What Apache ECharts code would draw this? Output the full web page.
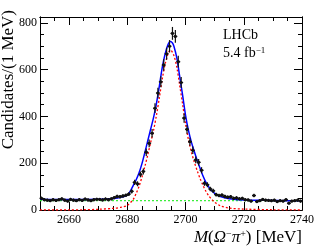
<!DOCTYPE html>
<html><head><meta charset="utf-8">
<script src="https://cdn.jsdelivr.net/npm/echarts@6/dist/echarts.min.js"></script>
<style>html,body{margin:0;padding:0;background:#fff}#c{width:324px;height:250px}</style>
</head><body><div id="c"></div>
<script>
// bin centres (1 MeV bins)
const binCenters = [2650.5,2651.5,2652.5,2653.5,2654.5,2655.5,2656.5,2657.5,2658.5,2659.5,
2660.5,2661.5,2662.5,2663.5,2664.5,2665.5,2666.5,2667.5,2668.5,2669.5,
2670.5,2671.5,2672.5,2673.5,2674.5,2675.5,2676.5,2677.5,2678.5,2679.5,
2680.5,2681.5,2682.5,2683.5,2684.5,2685.5,2686.5,2687.5,2688.5,2689.5,
2690.5,2691.5,2692.5,2693.5,2694.5,2695.5,2696.5,2697.5,2698.5,2699.5,
2700.5,2701.5,2702.5,2703.5,2704.5,2705.5,2706.5,2707.5,2708.5,2709.5,
2710.5,2711.5,2712.5,2713.5,2714.5,2715.5,2716.5,2717.5,2718.5,2719.5,
2720.5,2721.5,2722.5,2723.5,2724.5,2725.5,2726.5,2727.5,2728.5,2729.5,
2730.5,2731.5,2732.5,2733.5,2734.5,2735.5,2736.5,2737.5,2738.5,2739.5];
const counts = [50,44,42,40,44,41,44,48,42,38,
45,42,40,44,41,47,43,40,44,46,
45,43,47,44,48,53,58,57,60,63,
68,80,118,112,152,165,247,285,328,435,
500,548,620,668,700,755,742,634,545,393,
345,292,255,214,204,170,114,108,90,82,
66,62,64,58,55,57,50,52,48,50,
44,43,38,62,36,40,45,42,41,40,
42,36,40,38,44,29,38,40,42,38];
// total fit (blue)
const fitMass = [2650,2655,2660,2665,2670,2673,2676,2678,2680,2681,2682,2683,2684,2685,2686,2687,2688,2689,2690,2691,2692,2693,2694,2694.8,2695.5,2696,2697,2698,2699,2700,2701,2702,2703,2704,2705,2706,2707,2708,2709,2710,2712,2715,2720,2725,2730,2735,2740];
const fitTotal = [46,45,45,45,46,47,50,55,64,80,104,128,158,197,245,295,345,395,455,530,610,668,708,720,714,700,650,570,490,405,340,290,250,212,178,145,118,98,82,71,57,48,43,42,41,40,40];
// signal component (red dashed)
const sigMass = [2650,2660,2665,2670,2675,2678,2680,2682,2683,2684,2685,2686,2687,2688,2689,2690,2691,2692,2693,2694,2694.8,2696,2697,2698,2699,2700,2701,2702,2703,2704,2705,2706,2707,2708,2709,2710,2712,2715,2720,2730,2740];
const sigValues = [0,0,1,3,7,12,20,45,70,100,140,185,235,288,340,405,480,560,625,668,684,660,610,532,452,368,300,248,205,168,134,105,80,60,45,33,18,8,4,1,0];
// background component (green dotted)
const bkgMass = [2650,2740];
const bkgValues = [40,40];
const xLabels = [2660,2680,2700,2720,2740];
const xMinor = [2650,2655,2665,2670,2675,2685,2690,2695,2705,2710,2715,2725,2730,2735];
const yLabels = [0,200,400,600,800];
const yMinor = [50,100,150,250,300,350,450,500,550,650,700,750];

const pts = binCenters.map((m,i)=>[m,counts[i],Math.sqrt(counts[i])]);
const serif = 'Liberation Serif';
const X0 = 2650, X1 = 2740, Y0 = 0, Y1 = 825;

function xAx(pos, values, len, labels){
  return {type:'value', min:X0, max:X1, position:pos,
    axisLine:{show:true, onZero:false, lineStyle:{color:'#000', width:1}},
    axisTick:{show:true, inside:true, length:len, customValues:values, lineStyle:{color:'#000', width:1}},
    axisLabel:{show:labels, customValues:values, formatter:v=>String(v), fontFamily:serif, fontSize:12, color:'#000', margin:4},
    splitLine:{show:false}};
}
function yAx(pos, values, len, labels){
  return {type:'value', min:Y0, max:Y1, position:pos,
    axisLine:{show:true, onZero:false, lineStyle:{color:'#000', width:1}},
    axisTick:{show:true, inside:true, length:len, customValues:values, lineStyle:{color:'#000', width:1}},
    axisLabel:{show:labels, customValues:values, formatter:v=>String(v), fontFamily:serif, fontSize:12, color:'#000', margin:3},
    splitLine:{show:false}};
}

const chart = echarts.init(document.getElementById('c'), null, {renderer:'canvas'});
chart.setOption({
  animation:false,
  backgroundColor:'#fff',
  grid:{left:40, right:22, top:17, bottom:40, containLabel:false},
  xAxis:[
    Object.assign(xAx('bottom', xLabels, 8, true), {
      name:'{i|M}({i|Ω}{sup|−}{i|π}{sup|+}) [MeV]', nameLocation:'end', nameGap:0,
      nameTextStyle:{fontFamily:serif, fontSize:17, color:'#000', align:'right', verticalAlign:'top', padding:[19,0,0,0],
        rich:{i:{fontFamily:serif, fontStyle:'italic', fontSize:17, color:'#000'},
              sup:{fontFamily:serif, fontSize:10, color:'#000', verticalAlign:'top', padding:[0,0,6,0]}}}
    }),
    xAx('bottom', xMinor, 4, false),
    xAx('top', xLabels, 8, false),
    xAx('top', xMinor, 4, false)
  ],
  yAxis:[
    yAx('left', yLabels, 8, true),
    yAx('left', yMinor, 4, false),
    yAx('right', yLabels, 8, false),
    yAx('right', yMinor, 4, false)
  ],
  graphic:[
    {type:'text', x:9, y:10, rotation:Math.PI/2,
      style:{text:'Candidates/(1 MeV)', fontFamily:serif, fontSize:17, fill:'#000', align:'right', verticalAlign:'middle'}},
    {type:'text', x:223, y:35, style:{text:'LHCb', fontFamily:serif, fontSize:14, fill:'#000', verticalAlign:'middle'}},
    {type:'text', x:223, y:53, style:{text:'{n|5.4 fb}{s|−1}', fontFamily:serif, fontSize:14, fill:'#000', verticalAlign:'middle',
      rich:{n:{fontFamily:serif, fontSize:14, fill:'#000'}, s:{fontFamily:serif, fontSize:9, fill:'#000', verticalAlign:'top', padding:[0,0,5,0]}}}}
  ],
  series:[
    {type:'line', name:'bkg', data:bkgMass.map((m,i)=>[m,bkgValues[i]]), showSymbol:false,
      lineStyle:{color:'#33ee33', width:1.2, type:[2,2]}, z:2},
    {type:'line', name:'signal', data:sigMass.map((m,i)=>[m,sigValues[i]]), showSymbol:false, smooth:0.3,
      lineStyle:{color:'#ff0000', width:1.3, type:[2,2]}, z:3},
    {type:'line', name:'total', data:fitMass.map((m,i)=>[m,fitTotal[i]]), showSymbol:false, smooth:0.3,
      lineStyle:{color:'#0000ff', width:1.5}, z:4},
    {type:'custom', name:'data', data:pts, z:5,
      renderItem:function(params, api){
        const x = api.value(0), y = api.value(1), e = api.value(2);
        const c = api.coord([x,y]);
        const t = api.coord([x,y+e]), b = api.coord([x,y-e]);
        const l = api.coord([x-0.5,y]), r = api.coord([x+0.5,y]);
        return {type:'group', children:[
          {type:'line', shape:{x1:t[0],y1:t[1],x2:b[0],y2:b[1]}, style:{stroke:'#111', lineWidth:1.2}},
          {type:'line', shape:{x1:l[0]-0.5,y1:l[1],x2:r[0]+0.5,y2:r[1]}, style:{stroke:'#111', lineWidth:1.2}},
          {type:'circle', shape:{cx:c[0],cy:c[1],r:1.6}, style:{fill:'#111'}}
        ]};
      }}
  ]
});
</script></body></html>
